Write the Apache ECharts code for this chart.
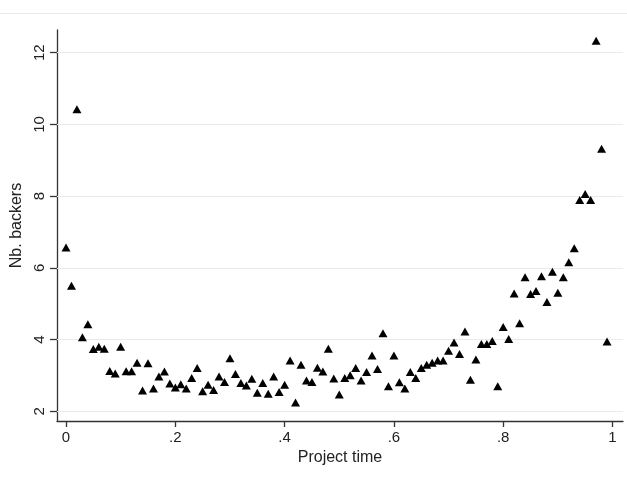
<!DOCTYPE html>
<html>
<head>
<meta charset="utf-8">
<script src="https://cdn.jsdelivr.net/npm/echarts@6/dist/echarts.min.js"></script>
<style>
html,body{margin:0;padding:0;background:#fff;}
#chart{width:627px;height:477px;}
</style>
</head>
<body>
<div id="chart"></div>
<script>
// Project time (x) values: 0, .01, ..., .99
const projectTime = [
  0.00,0.01,0.02,0.03,0.04,0.05,0.06,0.07,0.08,0.09,
  0.10,0.11,0.12,0.13,0.14,0.15,0.16,0.17,0.18,0.19,
  0.20,0.21,0.22,0.23,0.24,0.25,0.26,0.27,0.28,0.29,
  0.30,0.31,0.32,0.33,0.34,0.35,0.36,0.37,0.38,0.39,
  0.40,0.41,0.42,0.43,0.44,0.45,0.46,0.47,0.48,0.49,
  0.50,0.51,0.52,0.53,0.54,0.55,0.56,0.57,0.58,0.59,
  0.60,0.61,0.62,0.63,0.64,0.65,0.66,0.67,0.68,0.69,
  0.70,0.71,0.72,0.73,0.74,0.75,0.76,0.77,0.78,0.79,
  0.80,0.81,0.82,0.83,0.84,0.85,0.86,0.87,0.88,0.89,
  0.90,0.91,0.92,0.93,0.94,0.95,0.96,0.97,0.98,0.99
];
// Nb. backers values
const nbBackers = [
  6.57,5.50,10.42,4.07,4.43,3.74,3.80,3.75,3.13,3.06,
  3.80,3.12,3.12,3.36,2.58,3.34,2.64,2.97,3.11,2.78,
  2.67,2.76,2.64,2.93,3.21,2.56,2.74,2.60,2.97,2.82,
  3.48,3.04,2.79,2.72,2.91,2.52,2.79,2.49,2.97,2.54,
  2.74,3.42,2.25,3.30,2.86,2.82,3.22,3.11,3.75,2.92,
  2.47,2.93,3.01,3.21,2.86,3.10,3.56,3.18,4.18,2.70,
  3.56,2.81,2.64,3.10,2.93,3.21,3.30,3.36,3.42,3.42,
  3.69,3.92,3.60,4.23,2.88,3.45,3.88,3.88,3.96,2.70,
  4.35,4.02,5.29,4.46,5.74,5.27,5.36,5.77,5.05,5.89,
  5.31,5.74,6.16,6.55,7.89,8.06,7.89,12.33,9.32,3.95
];
const xTickValues = [0,0.2,0.4,0.6,0.8,1];
const xTickLabels = ['0','.2','.4','.6','.8','1'];
const yTickValues = [2,4,6,8,10,12];
const yTickLabels = ['2','4','6','8','10','12'];
const xTitle = 'Project time';
const yTitle = 'Nb. backers';

const points = projectTime.map((x,i)=>[x, nbBackers[i]]);
const font = 'Liberation Sans, Arial, sans-serif';

const chart = echarts.init(document.getElementById('chart'), null, {renderer:'canvas'});
chart.setOption({
  animation:false,
  backgroundColor:'#ffffff',
  graphic:[{
    type:'line', shape:{x1:0,y1:13.5,x2:627,y2:13.5},
    style:{stroke:'#e4ebee',lineWidth:1}, silent:true
  }],
  grid:{left:57,right:4,top:30,bottom:56,containLabel:false},
  xAxis:{
    type:'value', min:-0.0165, max:1.0192,
    name:xTitle, nameLocation:'middle', nameGap:27,
    nameTextStyle:{fontFamily:font,fontSize:16,color:'#222'},
    axisLine:{show:true,onZero:false,lineStyle:{color:'#333',width:1.3}},
    axisTick:{show:true,length:6,lineStyle:{color:'#333',width:1.3},customValues:xTickValues},
    axisLabel:{margin:9,fontFamily:font,fontSize:15,color:'#222',customValues:xTickValues,
      formatter:(v)=>{const i=xTickValues.findIndex(t=>Math.abs(t-v)<1e-9);return i>=0?xTickLabels[i]:'';}},
    splitLine:{show:false}
  },
  yAxis:{
    type:'value', min:1.733, max:12.632,
    name:yTitle, nameLocation:'middle', nameGap:28, nameRotate:90,
    nameTextStyle:{fontFamily:font,fontSize:16,color:'#222'},
    axisLine:{show:true,onZero:false,lineStyle:{color:'#333',width:1.3}},
    axisTick:{show:true,length:7,lineStyle:{color:'#333',width:1.3},customValues:yTickValues},
    axisLabel:{margin:10,rotate:90,fontFamily:font,fontSize:15,color:'#222',customValues:yTickValues,
      formatter:(v)=>{const i=yTickValues.findIndex(t=>Math.abs(t-v)<1e-9);return i>=0?yTickLabels[i]:'';}},
    splitLine:{show:false}
  },
  series:[{
    type:'scatter',
    data:points,
    symbol:'triangle',
    symbolSize:[9,8],
    itemStyle:{color:'#000',opacity:1},
    z:5,
    markLine:{
      silent:true, symbol:['none','none'], label:{show:false},
      lineStyle:{color:'#e3edf0',width:1.2,type:'solid'},
      z:1,
      data:yTickValues.map(v=>({yAxis:v}))
    }
  }]
});
</script>
</body>
</html>
